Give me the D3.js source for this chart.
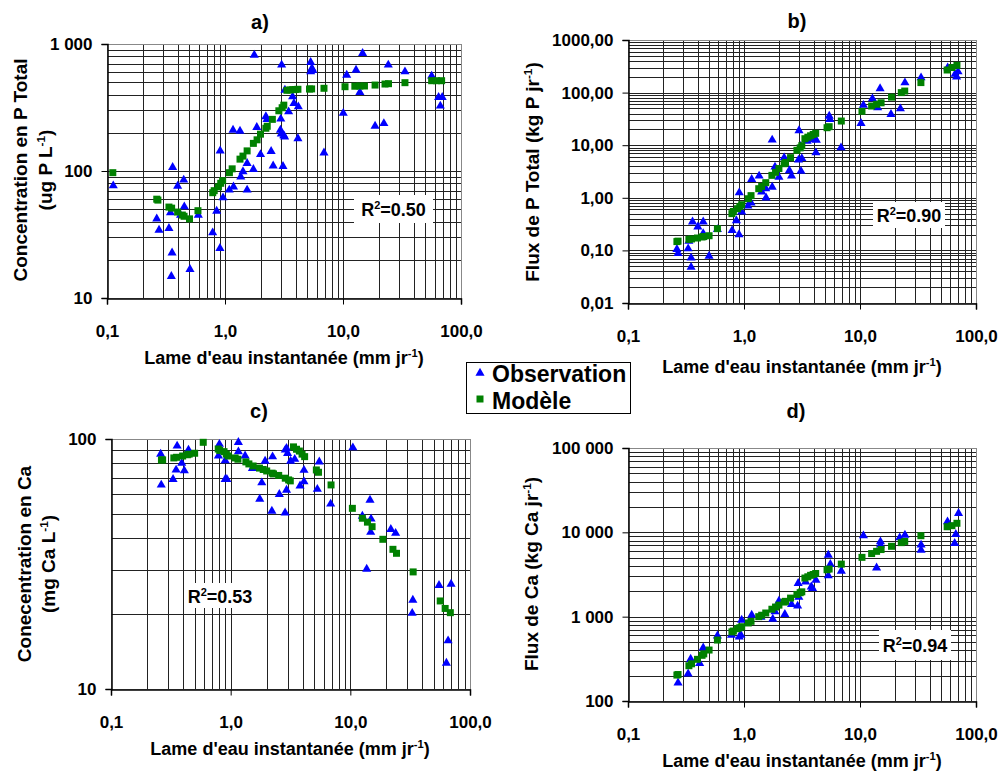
<!DOCTYPE html>
<html>
<head>
<meta charset="utf-8">
<script src="https://cdn.jsdelivr.net/npm/d3@7"></script>
<style>
  body { margin: 0; background: #fff; }
  svg { display: block; font-family: "Liberation Sans", Arial, sans-serif; font-weight: bold; }
</style>
</head>
<body>
<svg id="chart" width="999" height="772"></svg>
<script>
// instantaneous runoff (mm/day) of the model points, shared by the 4 panels
var flowModel = [0.112, 0.264, 0.27, 0.335, 0.353, 0.397, 0.435, 0.45, 0.50, 0.59,
  0.787, 0.81, 0.88, 0.92, 0.955, 1.09, 1.15, 1.34, 1.42, 1.54,
  1.74, 1.87, 2.0, 2.22, 2.28, 2.52, 2.86, 3.05, 3.15, 3.35,
  3.55, 3.75, 3.95, 4.15, 5.2, 5.42, 6.9, 10.4, 12.6, 13.9,
  15.2, 18.7, 22.7, 24.3, 33.5, 56.4, 62, 68.5];

// model values
var modelA = [97, 60, 59, 52, 51, 47.5, 45, 44, 42, 48.7,
  67.5, 70, 75, 80, 84, 97, 104, 124, 131, 144,
  165, 176, 195, 217, 225, 255, 298, 315, 330, 432,
  435, 437, 438, 440, 442, 443, 448, 461, 465, 467,
  467, 475, 484, 487, 496, 514, 514, 514];
var modelB = [null, 0.147, 0.15, 0.162, 0.165, 0.172, 0.18, 0.183, 0.19, 0.259,
  0.50, 0.55, 0.62, 0.68, 0.74, 0.96, 1.1, 1.49, 1.65, 1.94,
  2.67, 3.05, 3.6, 4.45, 4.7, 5.8, 8.0, 8.9, 9.8, 13.3,
  14.2, 15.1, 16.0, 16.8, 21.5, 22.5, 28.8, 44, 55.6, 60,
  64, 82, 100, 107, 155, 269, 300, 330];
var modelC = [null, 82.4, 82.5, 84, 84.5, 85.5, 86.5, 87, 87.7, 97,
  91.2, 90, 89, 87, 85.5, 84, 83, 81, 79.5, 78,
  76.5, 75.5, 74.5, 73, 72.5, 71.5, 69.7, 68.6, 68, 93,
  91, 89.5, 87, 85, 75.2, 73.6, 65.5, 52.8, 48.2, 46.5,
  44.6, 39.7, 36.2, 34.9, 29.4, 22.5, 21.0, 20.2];
var modelD = [null, 203, 206, 262, 276, 312, 348, 362, 402, 528,
  660, 675, 720, 740, 760, 842, 880, 1000, 1040, 1105,
  1225, 1300, 1370, 1490, 1520, 1660, 1835, 1925, 1970, 2870,
  2970, 3090, 3160, 3250, 3600, 3670, 4200, 5050, 5600, 5950,
  6250, 6830, 7550, 7800, 9120, 11650, 12000, 12800];

// observations [runoff, value]
var obsA = [[0.113, 76.6], [0.264, 42], [0.276, 34.3], [0.335, 35.4], [0.345, 47], [0.351, 14.8],
  [0.356, 22.7], [0.36, 107], [0.397, 76], [0.42, 45], [0.447, 85], [0.452, 52.4], [0.505, 16.8],
  [0.594, 45], [0.786, 32.7], [0.85, 48.4], [0.906, 24.6], [0.91, 144], [0.962, 61.6], [1.087, 71],
  [1.17, 210], [1.18, 75], [1.34, 206], [1.36, 90], [1.42, 99], [1.54, 71], [1.54, 115], [1.74, 103],
  [1.77, 818], [1.86, 221], [2.0, 135], [2.22, 268], [2.27, 255], [2.46, 143], [2.56, 110], [2.95, 210],
  [2.97, 257], [3.0, 196], [3.02, 684], [3.1, 109], [3.15, 190], [3.2, 186], [3.22, 434], [3.46, 293],
  [3.74, 385], [3.84, 341], [4.15, 180], [4.18, 321], [5.32, 717], [5.32, 605], [5.45, 644], [5.55, 620],
  [6.9, 139], [10.05, 285], [10.75, 570], [12.9, 624], [13.9, 416], [14.66, 845], [18.7, 226], [22.2, 237],
  [24.2, 684], [33.5, 605], [56.4, 560], [64.6, 380], [66.8, 325], [69.3, 380]];
var obsB = [[0.264, 0.105], [0.27, 0.088], [0.33, 0.108], [0.335, 0.15], [0.35, 0.048], [0.35, 0.072],
  [0.36, 0.35], [0.40, 0.28], [0.445, 0.35], [0.445, 0.21], [0.50, 0.078], [0.59, 0.25], [0.79, 0.24],
  [0.86, 0.37], [0.906, 0.20], [0.91, 1.25], [0.955, 0.54], [1.08, 0.70], [1.15, 0.8], [1.165, 2.25],
  [1.35, 2.6], [1.42, 1.3], [1.54, 1.5], [1.55, 1.0], [1.75, 1.6], [1.75, 12.6], [1.85, 3.86], [2.0, 2.48],
  [2.22, 5.8], [2.46, 3.3], [2.57, 2.6], [2.95, 5.25], [2.98, 19], [3.08, 9.5], [3.1, 3.2], [3.15, 5.6],
  [3.5, 12], [3.85, 12.7], [4.17, 7.2], [4.2, 12.5], [5.43, 35.9], [5.5, 31], [6.86, 8.98], [10.2, 26],
  [10.7, 57.5], [12.8, 76.5], [14.2, 51.6], [14.9, 119], [18.5, 38.6], [22.3, 49.4], [24.4, 154],
  [33.6, 192], [57, 298], [66, 224], [68, 200], [70, 250]];
var obsC = [[0.26, 87], [0.263, 65.5], [0.33, 69], [0.35, 75.2], [0.357, 93.8], [0.39, 80], [0.41, 74.7],
  [0.444, 90.4], [0.79, 85.7], [0.805, 95.3], [0.9, 69], [0.93, 69], [0.9, 82], [1.16, 97], [1.16, 89],
  [1.32, 85.7], [1.52, 76.3], [1.75, 57.5], [1.82, 66.9], [1.94, 81.6], [2.21, 51.5], [2.24, 85],
  [2.55, 60.1], [2.85, 50.7], [2.86, 90.4], [2.93, 91.8], [2.93, 62.5], [2.99, 87.7], [3.17, 81.6],
  [3.43, 83], [3.8, 65], [4.1, 75], [4.1, 67.5], [5.3, 63], [5.5, 81], [6.85, 55], [10.5, 92.3],
  [12.6, 49.2], [13.7, 30.2], [14.6, 57], [14.8, 42.4], [14.9, 47.9], [21.8, 43.5], [23.9, 42],
  [32.9, 20.1], [33.3, 22.7], [55.1, 26], [63.5, 12.7], [65.6, 15.6], [69.5, 26.3]];
var obsD = [[0.27, 164], [0.33, 210], [0.347, 314], [0.35, 280], [0.415, 279], [0.445, 428], [0.59, 593],
  [0.78, 605], [0.91, 578], [0.94, 605], [0.955, 912], [1.165, 1045], [1.4, 990], [1.77, 938], [1.85, 1150],
  [2.0, 1530], [2.25, 1065], [2.57, 1400], [2.9, 1340], [2.97, 1700], [2.93, 2490], [3.4, 2590],
  [3.8, 2260], [3.9, 2160], [4.17, 2720], [5.33, 3060], [5.33, 5370], [5.55, 4170], [6.9, 3480],
  [10.7, 9120], [13.9, 3800], [15.0, 7750], [15.0, 7080], [22.0, 8630], [24.4, 9290], [33.6, 7080],
  [33.6, 6170], [56.8, 13370], [65.5, 7400], [67.0, 9460], [70.7, 16800]];

// ticks
var xTicks = [0.1, 1, 10, 100];
var xTickLabels = ["0,1", "1,0", "10,0", "100,0"];
var yTicksA = [10, 100, 1000];
var yTickLabelsA = ["10", "100", "1 000"];
var yTicksB = [0.01, 0.1, 1, 10, 100, 1000];
var yTickLabelsB = ["0,01", "0,10", "1,00", "10,00", "100,00", "1000,00"];
var yTicksC = [10, 100];
var yTickLabelsC = ["10", "100"];
var yTicksD = [100, 1000, 10000, 100000];
var yTickLabelsD = ["100", "1 000", "10 000", "100 000"];

var r2Labels = ["0.50", "0.90", "0.53", "0.94"];
var xTitle = ["Lame d'eau instantanée (mm jr", "-1", ")"];

var panels = [
  { title: "a)", tx: 260, ty: 29, box: [107, 461, 44, 298], yTicks: yTicksA, yLabels: yTickLabelsA,
    model: modelA, obs: obsA, r2: r2Labels[0], r2Box: [354, 195, 79, 28],
    yTitle: [[27, ["Concentration en P Total"]], [52, ["(ug P L", "-1", ")"]]], yTitleY: 170,
    xTitleX: 284, xTitleY: 364 },
  { title: "b)", tx: 797, ty: 28, box: [628, 976, 40, 303], yTicks: yTicksB, yLabels: yTickLabelsB,
    model: modelB, obs: obsB, r2: r2Labels[1], r2Box: [873, 202, 72, 26],
    yTitle: [[539, ["Flux de P Total (kg P jr", "-1", ")"]]], yTitleY: 172,
    xTitleX: 802, xTitleY: 373 },
  { title: "c)", tx: 259, ty: 418, box: [111, 470, 439, 689], yTicks: yTicksC, yLabels: yTickLabelsC,
    model: modelC, obs: obsC, r2: r2Labels[2], r2Box: [184, 583, 72, 25],
    yTitle: [[31, ["Conecentration en Ca"]], [55, ["(mg Ca L", "-1", ")"]]], yTitleY: 564,
    xTitleX: 290, xTitleY: 755 },
  { title: "d)", tx: 796, ty: 418, box: [628, 976, 448, 701], yTicks: yTicksD, yLabels: yTickLabelsD,
    model: modelD, obs: obsD, r2: r2Labels[3], r2Box: [879, 630, 72, 30],
    yTitle: [[538, ["Flux de Ca (kg Ca jr", "-1", ")"]]], yTitleY: 574,
    xTitleX: 802, xTitleY: 767 }
];

var svg = d3.select("#chart");
var tri = d3.symbol().type(d3.symbolTriangle).size(36);
var sq = d3.symbol().type(d3.symbolSquare).size(49);

function supText(sel, parts, size) {
  sel.append("tspan").text(parts[0]);
  if (parts.length > 1) {
    sel.append("tspan").attr("dy", -7).attr("font-size", size * 0.62).text(parts[1]);
    sel.append("tspan").attr("dy", 7).text(parts[2]);
  }
}

panels.forEach(function (p) {
  var x = d3.scaleLog().domain([0.1, 100]).range([p.box[0], p.box[1]]);
  var yDom = d3.extent(p.yTicks);
  var y = d3.scaleLog().domain(yDom).range([p.box[3], p.box[2]]);
  var g = svg.append("g");

  // grid
  g.append("g").selectAll("line").data(x.ticks()).join("line")
    .attr("x1", d => Math.round(x(d)) + 0.5).attr("x2", d => Math.round(x(d)) + 0.5)
    .attr("y1", p.box[2]).attr("y2", p.box[3])
    .attr("stroke", "#222").attr("stroke-width", 1);
  g.append("g").selectAll("line").data(y.ticks()).join("line")
    .attr("y1", d => Math.round(y(d)) + 0.5).attr("y2", d => Math.round(y(d)) + 0.5)
    .attr("x1", p.box[0]).attr("x2", p.box[1])
    .attr("stroke", "#222").attr("stroke-width", 1);
  g.append("rect").attr("x", p.box[0] + 0.5).attr("y", p.box[2] + 0.5)
    .attr("width", p.box[1] - p.box[0]).attr("height", p.box[3] - p.box[2])
    .attr("fill", "none").attr("stroke", "#888");

  // axes
  var xa = g.append("g").attr("transform", "translate(0," + (p.box[3] + 0.5) + ")")
    .call(d3.axisBottom(x).tickValues(xTicks).tickSize(6).tickPadding(20)
      .tickFormat((d, i) => xTickLabels[i]));
  var ya = g.append("g").attr("transform", "translate(" + (p.box[0] + 0.5) + ",0)")
    .call(d3.axisLeft(y).tickValues(p.yTicks).tickSize(6).tickPadding(9)
      .tickFormat((d, i) => p.yLabels[i]));
  [xa, ya].forEach(function (a) {
    a.selectAll("path").attr("stroke", "#000").attr("stroke-width", 1.5);
    a.selectAll("line").attr("stroke", "#000");
    a.selectAll("text").attr("font-size", 17).attr("font-family", null).attr("fill", "#000");
  });

  // R2 box
  g.append("rect").attr("x", p.r2Box[0]).attr("y", p.r2Box[1])
    .attr("width", p.r2Box[2]).attr("height", p.r2Box[3]).attr("fill", "#fff");
  var rt = g.append("text").attr("x", p.r2Box[0] + p.r2Box[2] / 2).attr("y", p.r2Box[1] + p.r2Box[3] / 2 + 7)
    .attr("text-anchor", "middle").attr("font-size", 18);
  rt.append("tspan").text("R");
  rt.append("tspan").attr("dy", -7).attr("font-size", 11).text("2");
  rt.append("tspan").attr("dy", 7).text("=" + p.r2);

  // marks
  var mod = flowModel.map((f, i) => [f, p.model[i]]).filter(d => d[1] != null);
  g.append("g").selectAll("path").data(p.obs).join("path")
    .attr("d", tri).attr("fill", "#0000ff")
    .attr("transform", d => "translate(" + x(d[0]) + "," + y(d[1]) + ")");
  g.append("g").selectAll("path").data(mod).join("path")
    .attr("d", sq).attr("fill", "#008000")
    .attr("transform", d => "translate(" + x(d[0]) + "," + y(d[1]) + ")");

  // titles
  g.append("text").attr("x", p.tx).attr("y", p.ty).attr("text-anchor", "middle")
    .attr("font-size", 20).text(p.title);
  var xt = g.append("text").attr("x", p.xTitleX).attr("y", p.xTitleY)
    .attr("text-anchor", "middle").attr("font-size", 18);
  supText(xt, xTitle, 18);
  p.yTitle.forEach(function (l) {
    var t = g.append("text").attr("text-anchor", "middle").attr("font-size", 19)
      .attr("transform", "translate(" + l[0] + "," + p.yTitleY + ") rotate(-90)");
    supText(t, l[1], 19);
  });
});

// legend
var lg = svg.append("g");
lg.append("rect").attr("x", 466.5).attr("y", 362.5).attr("width", 164).attr("height", 51)
  .attr("fill", "#fff").attr("stroke", "#000");
lg.append("path").attr("d", tri).attr("fill", "#0000ff").attr("transform", "translate(480,373)");
lg.append("path").attr("d", sq).attr("fill", "#008000").attr("transform", "translate(480,399)");
lg.append("text").attr("x", 492).attr("y", 382).attr("font-size", 23).text("Observation");
lg.append("text").attr("x", 492).attr("y", 409).attr("font-size", 23).text("Modèle");
</script>
</body>
</html>
